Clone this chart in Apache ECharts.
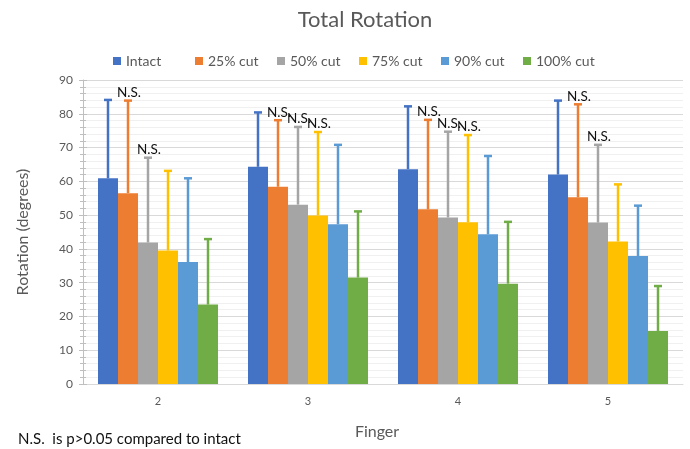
<!DOCTYPE html>
<html>
<head>
<meta charset="utf-8">
<script src="https://cdn.jsdelivr.net/npm/echarts@6/dist/echarts.min.js"></script>
<style>
  html, body { margin: 0; padding: 0; background: #fff; }
  #chart { width: 690px; height: 449px; }
</style>
</head>
<body>
<div id="chart"></div>
<script>
// Finger categories
const categories = ['2', '3', '4', '5'];

// Mean total rotation (degrees) per condition
const intact = [60.9, 64.3, 63.6, 62.0];
const cut25  = [56.5, 58.4, 51.7, 55.3];
const cut50  = [41.9, 53.1, 49.3, 47.8];
const cut75  = [39.5, 49.9, 47.9, 42.2];
const cut90  = [36.1, 47.3, 44.3, 37.9];
const cut100 = [23.5, 31.5, 29.7, 15.7];

// Standard deviations (upper error bars)
const intactSD = [23.2, 16.1, 18.6, 21.9];
const cut25SD  = [27.4, 19.7, 26.5, 27.5];
const cut50SD  = [25.1, 23.0, 25.4, 23.0];
const cut75SD  = [23.6, 24.7, 25.8, 16.9];
const cut90SD  = [24.8, 23.5, 23.2, 14.9];
const cut100SD = [19.4, 19.6, 18.3, 13.3];

// Not-significant markers (vs intact)
const intactNS = [false, false, false, false];
const cut25NS  = [true, true, true, true];
const cut50NS  = [true, true, true, true];
const cut75NS  = [false, true, true, false];
const cut90NS  = [false, false, false, false];
const cut100NS = [false, false, false, false];

const seriesNames = ['Intact', '25% cut', '50% cut', '75% cut', '90% cut', '100% cut'];
const colors = ['#4472C4', '#ED7D31', '#A5A5A5', '#FFC000', '#5B9BD5', '#70AD47'];
const means = [intact, cut25, cut50, cut75, cut90, cut100];
const sds = [intactSD, cut25SD, cut50SD, cut75SD, cut90SD, cut100SD];
const nsFlags = [intactNS, cut25NS, cut50NS, cut75NS, cut90NS, cut100NS];

const FONT = 'Lato, "Open Sans", sans-serif';
const CAT_GAP = 0.2;
const nSeries = seriesNames.length;
// legend entries sit in equal-width slots
const LEGEND_LEFT = 113;
const LEGEND_SLOT = 82;

const chart = echarts.init(document.getElementById('chart'));

const barSeries = seriesNames.map((name, i) => ({
  name: name,
  type: 'bar',
  data: means[i],
  itemStyle: { color: colors[i] },
  barGap: '0%',
  barCategoryGap: (CAT_GAP * 100) + '%',
  z: 2
}));

const errorSeries = seriesNames.map((name, i) => ({
  name: name,
  type: 'custom',
  z: 3,
  data: means[i].map((m, k) => [k, m, m + sds[i][k], nsFlags[i][k] ? 1 : 0]),
  renderItem: function (params, api) {
    const k = api.value(0);
    const base = api.coord([k, api.value(1)]);
    const top = api.coord([k, api.value(2)]);
    const band = api.size([1, 0])[0];
    const groupW = band * (1 - CAT_GAP);
    const barW = groupW / nSeries;
    const x = base[0] - groupW / 2 + barW * (i + 0.5);
    const capHalf = 4;
    const style = { stroke: colors[i], lineWidth: 2.5 };
    const children = [
      { type: 'line', shape: { x1: x, y1: base[1], x2: x, y2: top[1] }, style: style },
      { type: 'line', shape: { x1: x - capHalf, y1: top[1], x2: x + capHalf, y2: top[1] }, style: style }
    ];
    if (api.value(3) === 1) {
      children.push({
        type: 'text',
        x: x + 1,
        y: top[1] - 1,
        style: {
          text: 'N.S.',
          fill: '#111111',
          font: '13.5px ' + FONT,
          align: 'center',
          verticalAlign: 'bottom'
        }
      });
    }
    return { type: 'group', children: children };
  }
}));

const legends = seriesNames.map((name, i) => ({
  data: [name],
  left: LEGEND_LEFT + LEGEND_SLOT * i,
  top: 54,
  padding: 0,
  itemWidth: 8,
  itemHeight: 8,
  icon: 'rect',
  textStyle: { fontFamily: FONT, fontSize: 14, color: '#595959' }
}));

const option = {
  animation: false,
  backgroundColor: '#ffffff',
  textStyle: { fontFamily: FONT },
  title: {
    text: 'Total Rotation',
    left: 360,
    top: 4,
    textAlign: 'center',
    textStyle: { fontFamily: FONT, fontSize: 22, fontWeight: 'normal', color: '#595959' }
  },
  legend: legends,
  grid: { left: 83, right: 7, top: 80, bottom: 65, containLabel: false },
  xAxis: {
    type: 'category',
    data: categories,
    name: 'Finger',
    nameLocation: 'middle',
    nameGap: 40,
    nameTextStyle: { fontFamily: FONT, fontSize: 16, color: '#595959', padding: [0, 12, 0, 0] },
    axisLine: { lineStyle: { color: '#d9d9d9' } },
    axisTick: { show: false },
    axisLabel: { fontFamily: FONT, fontSize: 11, color: '#595959', margin: 12 }
  },
  yAxis: [{
    type: 'value',
    min: 0,
    max: 90,
    interval: 10,
    name: 'Rotation (degrees)',
    nameLocation: 'middle',
    nameGap: 52,
    nameTextStyle: { fontFamily: FONT, fontSize: 16, color: '#595959' },
    axisLine: { show: true, lineStyle: { color: '#bfbfbf' } },
    axisTick: { show: true, length: 4, lineStyle: { color: '#bfbfbf' } },
    minorTick: { show: true, splitNumber: 5, length: 3, lineStyle: { color: '#bfbfbf' } },
    axisLabel: { fontFamily: FONT, fontSize: 12, color: '#595959', margin: 10 },
    splitLine: { lineStyle: { color: '#d9d9d9' } },
    minorSplitLine: { show: true, lineStyle: { color: '#f0f0f0' } }
  }, {
    // inner half of the crossing tick marks
    type: 'value',
    min: 0,
    max: 90,
    interval: 10,
    position: 'left',
    axisLine: { show: false },
    axisTick: { show: true, inside: true, length: 4, lineStyle: { color: '#bfbfbf' } },
    minorTick: { show: true, splitNumber: 5, length: 3, lineStyle: { color: '#bfbfbf' } },
    axisLabel: { show: false },
    splitLine: { show: false }
  }],
  graphic: [{
    type: 'text',
    left: 18,
    top: 432,
    style: {
      text: 'N.S.  is p>0.05 compared to intact',
      fill: '#111111',
      font: '15px ' + FONT
    }
  }],
  series: barSeries.concat(errorSeries)
};

chart.setOption(option);
</script>
</body>
</html>
